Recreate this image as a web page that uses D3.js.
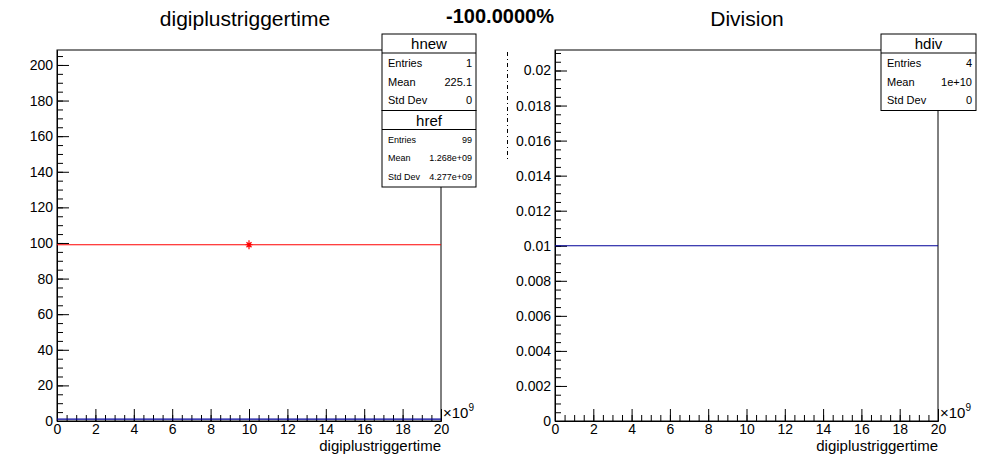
<!DOCTYPE html>
<html>
<head>
<meta charset="utf-8">
<script src="https://cdn.jsdelivr.net/npm/d3@7"></script>
<style>
  body { margin: 0; background: #fff; }
  svg { display: block; font-family: "Liberation Sans", Arial, sans-serif; }
  .axis path, .axis line { stroke: #000; }
</style>
</head>
<body>
<svg id="chart" width="996" height="472"></svg>
<script>
// histogram bins (x in units of 1e9)
var binEdges = [0, 20];
var hrefCounts = [99];
var hnewCounts = [1];
var hdivValues = [0.01];
var hrefMarkerX = [10];
var hrefMarkerY = [99];

var xMajor = [0, 2, 4, 6, 8, 10, 12, 14, 16, 18, 20];
var leftMajor = [0, 20, 40, 60, 80, 100, 120, 140, 160, 180, 200];
var rightMajor = [0, 0.002, 0.004, 0.006, 0.008, 0.01, 0.012, 0.014, 0.016, 0.018, 0.02];

var hnewStats = [["Entries", "1"], ["Mean", "225.1"], ["Std Dev", "0"]];
var hrefStats = [["Entries", "99"], ["Mean", "1.268e+09"], ["Std Dev", "4.277e+09"]];
var hdivStats = [["Entries", "4"], ["Mean", "1e+10"], ["Std Dev", "0"]];

var svg = d3.select("#chart");

function drawPad(cfg) {
    var x = d3.scaleLinear().domain([0, 20]).range([cfg.left, cfg.right]);
    var y = d3.scaleLinear().domain([0, cfg.ymax]).range([cfg.bottom, cfg.top]);

    var g = svg.append("g");

    // frame
    g.append("rect")
        .attr("x", cfg.left).attr("y", cfg.top)
        .attr("width", cfg.right - cfg.left).attr("height", cfg.bottom - cfg.top)
        .attr("fill", "none").attr("stroke", "#000");

    // x axis, minor then major
    var minorX = d3.range(0, 20.01, 0.5);
    g.append("g").attr("class", "axis")
        .attr("transform", "translate(0," + cfg.bottom + ")")
        .call(d3.axisBottom(x).tickValues(minorX).tickSize(-6).tickSizeOuter(0).tickFormat(""));
    g.append("g").attr("class", "axis")
        .attr("transform", "translate(0," + cfg.bottom + ")")
        .call(d3.axisBottom(x).tickValues(xMajor).tickSize(-12).tickSizeOuter(0).tickPadding(3))
        .selectAll("text").attr("font-size", 14).attr("fill", "#000")
        .attr("font-family", "Liberation Sans, Arial, sans-serif");

    // y axis
    var minorY = d3.range(0, cfg.ymax, cfg.minorStep);
    g.append("g").attr("class", "axis")
        .attr("transform", "translate(" + cfg.left + ",0)")
        .call(d3.axisLeft(y).tickValues(minorY).tickSize(-6).tickSizeOuter(0).tickFormat(""));
    g.append("g").attr("class", "axis")
        .attr("transform", "translate(" + cfg.left + ",0)")
        .call(d3.axisLeft(y).tickValues(cfg.major).tickSize(-12).tickSizeOuter(0).tickPadding(4)
            .tickFormat(d => d === 0 ? "0" : String(+d.toFixed(4))))
        .selectAll("text").attr("font-size", 14).attr("fill", "#000")
        .attr("font-family", "Liberation Sans, Arial, sans-serif");

    g.selectAll(".domain").attr("stroke", "#000");

    // x10^9 label
    var ex = g.append("text").attr("x", cfg.right + 2).attr("y", cfg.bottom - 3)
        .attr("font-size", 15);
    ex.append("tspan").text("\u00d710");
    ex.append("tspan").attr("dy", -7).attr("font-size", 10).text("9");

    // axis title
    g.append("text").attr("x", cfg.right).attr("y", cfg.bottom + 30)
        .attr("text-anchor", "end").attr("font-size", 15)
        .text("digiplustriggertime");

    // pad title
    g.append("text").attr("x", cfg.titleX).attr("y", 26)
        .attr("text-anchor", "middle").attr("font-size", 21)
        .text(cfg.title);

    return {x: x, y: y, g: g};
}

function drawHistLine(p, counts, color) {
    p.g.selectAll(null).data(counts).enter().append("line")
        .attr("x1", (d, i) => p.x(binEdges[i]))
        .attr("x2", (d, i) => p.x(binEdges[i + 1]))
        .attr("y1", d => p.y(d)).attr("y2", d => p.y(d))
        .attr("stroke", color).attr("stroke-width", 1.2);
}

function drawStats(x0, y0, w, title, rows, rowH, fs) {
    var titleH = 19;
    var h = titleH + rows.length * rowH + 2;
    var g = svg.append("g");
    g.append("rect").attr("x", x0).attr("y", y0).attr("width", w).attr("height", h)
        .attr("fill", "#fff").attr("stroke", "#000");
    g.append("line").attr("x1", x0).attr("x2", x0 + w)
        .attr("y1", y0 + titleH).attr("y2", y0 + titleH).attr("stroke", "#000");
    g.append("text").attr("x", x0 + w / 2).attr("y", y0 + 15)
        .attr("text-anchor", "middle").attr("font-size", 15).text(title);
    rows.forEach(function(r, i) {
        var yy = y0 + titleH + rowH * (i + 0.5) + fs * 0.36 + 1;
        g.append("text").attr("x", x0 + 6).attr("y", yy).attr("font-size", fs).text(r[0]);
        g.append("text").attr("x", x0 + w - 4).attr("y", yy).attr("text-anchor", "end")
            .attr("font-size", fs).text(r[1]);
    });
    return y0 + h;
}

// left pad
var left = drawPad({left: 57, right: 441, top: 50, bottom: 421, ymax: 208.4,
    major: leftMajor, minorStep: 5, title: "digiplustriggertime", titleX: 245});
drawHistLine(left, hrefCounts, "#ff0000");
drawHistLine(left, hnewCounts, "#000099");

// href marker (asterisk) with small error bar
left.g.selectAll(null).data(hrefMarkerX).enter().append("path")
    .attr("transform", (d, i) => "translate(" + left.x(d) + "," + left.y(hrefMarkerY[i]) + ")")
    .attr("d", "M-3.5,0H3.5M0,-3.5V3.5M-2.5,-2.5L2.5,2.5M-2.5,2.5L2.5,-2.5M0,-4.5V4.5")
    .attr("stroke", "#ff0000").attr("stroke-width", 1.2).attr("fill", "none");

// right pad
var right = drawPad({left: 555, right: 938, top: 50, bottom: 421, ymax: 0.02117,
    major: rightMajor, minorStep: 0.0005, title: "Division", titleX: 747});
drawHistLine(right, hdivValues, "#000099");

// stats boxes
var yb = drawStats(382, 34, 94, "hnew", hnewStats, 18.5, 11);
drawStats(382, yb, 94, "href", hrefStats, 18.5, 9);
drawStats(881, 34, 95, "hdiv", hdivStats, 18.5, 11);

// overall title
svg.append("text").attr("x", 500).attr("y", 23).attr("text-anchor", "middle")
    .attr("font-size", 20).attr("font-weight", "bold").text("-100.0000%");

// stray dash-dot line between the pads
svg.append("line").attr("x1", 507.5).attr("x2", 507.5).attr("y1", 52).attr("y2", 160)
    .attr("stroke", "#000").attr("stroke-dasharray", "4,3,1,3");
</script>
</body>
</html>
